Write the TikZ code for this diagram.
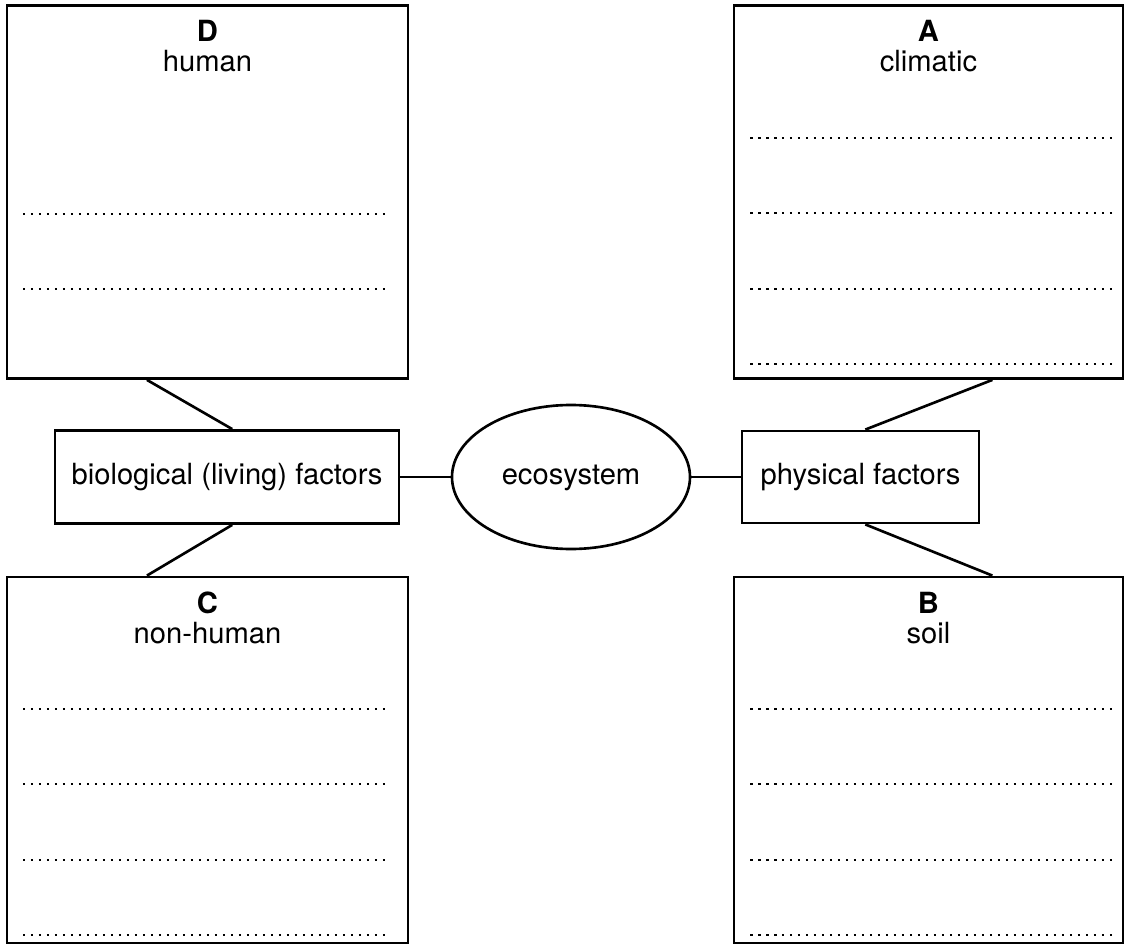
\documentclass[tikz,border=0pt]{standalone}
\usepackage{fontspec}
\setmainfont{TeX Gyre Heros}
\usetikzlibrary{positioning,calc,shapes.geometric}

\begin{document}
\begin{tikzpicture}[x=0.02cm,y=-0.02cm,
  box/.style={draw,line width=1.6pt,inner sep=0pt},
  txt/.style={font=\fontsize{16.6}{20}\selectfont},
  mid/.style={txt,text height=1.1em,text depth=0.3em},
  link/.style={line width=1.5pt},
  dots/.style={line width=0.055cm,dash pattern=on 0.05cm off 0.11cm}]
\def\u{0.02cm}

\useasboundingbox (0,0) rectangle (1127,946);

\def\xl{207.5}
\def\xr{928.5}
\def\ym{477}

\def\ya{192}
\def\yb{760}

% answer boxes
\node[box,minimum width=401*\u,minimum height=373*\u](D) at (\xl,\ya) {};
\node[box,minimum width=389*\u,minimum height=373*\u](A) at (\xr,\ya) {};
\node[box,minimum width=401*\u,minimum height=366*\u](C) at (\xl,\yb) {};
\node[box,minimum width=389*\u,minimum height=366*\u](B) at (\xr,\yb) {};

\node[txt,anchor=base](lD) at (\xl,42) {\textbf{D}};
\node[txt,anchor=base](tD) at (\xl,72) {human};
\node[txt,anchor=base](lA) at (\xr,42) {\textbf{A}};
\node[txt,anchor=base](tA) at (\xr,72) {climatic};
\node[txt,anchor=base](lC) at (\xl,613) {\textbf{C}};
\node[txt,anchor=base](tC) at (\xl,643) {non-human};
\node[txt,anchor=base](lB) at (\xr,613) {\textbf{B}};
\node[txt,anchor=base](tB) at (\xr,643) {soil};

% lines to write on
\foreach \y in {214,289}
  \draw[dots] (23,\y) -- (388,\y);
\foreach \y in {138,213,289,364}
  \draw[dots] (750,\y) -- (1113,\y);
\foreach \y in {709,784,860,935} {
  \draw[dots] (23,\y) -- (388,\y);
  \draw[dots] (750,\y) -- (1113,\y);
}

% middle row
\node[box,mid,minimum width=344*\u,minimum height=93*\u](bio) at (227,\ym) {biological (living) factors};
\node[draw,ellipse,link,mid,inner sep=0pt,minimum width=238*\u,minimum height=144*\u](eco) at (571,\ym) {ecosystem};
\node[box,mid,minimum width=237*\u,minimum height=92*\u](phys) at (860.5,\ym) {physical factors};

\draw[link] (bio) -- (eco);
\draw[link] (eco) -- (phys);

\draw[link] ($(D.south west)!0.35!(D.south east)$) -- ($(bio.north west)!0.515!(bio.north east)$);
\draw[link] ($(bio.south west)!0.515!(bio.south east)$) -- ($(C.north west)!0.35!(C.north east)$);
\draw[link] ($(phys.north west)!0.52!(phys.north east)$) -- ($(A.south west)!0.663!(A.south east)$);
\draw[link] ($(phys.south west)!0.52!(phys.south east)$) -- ($(B.north west)!0.663!(B.north east)$);

\end{tikzpicture}
\end{document}
